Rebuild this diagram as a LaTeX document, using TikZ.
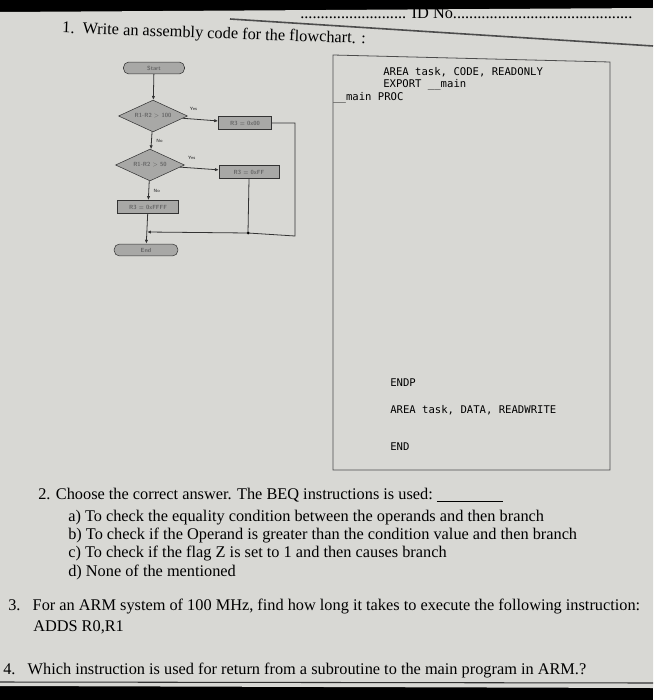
\documentclass[tikz,border=0pt]{standalone}
\usepackage{fontspec}
\setmainfont{Liberation Serif}
\setmonofont{DejaVu Sans Mono}
\usetikzlibrary{shapes.geometric,arrows.meta}
\definecolor{paper}{HTML}{D8D8D4}
\definecolor{shape}{HTML}{A8A8A6}
\begin{document}
\begin{tikzpicture}[x=0.0265cm,y=-0.0265cm,
 term/.style={draw=black!80,fill=shape,rounded corners=4pt,inner sep=0pt,font=\fontsize{4.5}{4.5}\selectfont\sffamily\bfseries,text=black!60},
 dec/.style={draw=black!80,fill=shape,diamond,aspect=2.2,inner sep=0pt,font=\fontsize{4.5}{4.5}\selectfont\sffamily\bfseries,text=black!60},
 proc/.style={draw=black!80,fill=shape,inner sep=1pt,minimum height=10pt,font=\fontsize{4.5}{4.5}\selectfont\sffamily\bfseries,text=black!60},
 lab/.style={font=\fontsize{3.5}{3.5}\selectfont\sffamily\bfseries,text=black!70},
 fl/.style={draw=black!80,line width=0.6pt},
 arr/.style={fl,-{Latex[length=3pt,width=2.5pt]}},
 code/.style={font=\ttfamily\fontsize{8}{9}\selectfont,anchor=west,inner sep=0pt},
 txt/.style={font=\fontsize{12.3}{13}\selectfont,anchor=west,inner sep=0pt}]
\useasboundingbox (0,0) rectangle (653,700);
\fill[black] (0,0) rectangle (653,700);
\fill[paper] (0,12) -- (653,8) -- (653,688) -- (0,686) -- cycle;
% header
\draw[black!70,line width=1.2pt] (230,19) -- (653,46);
\node[txt] (idno) at (300,13) {.......................... ID No............................................};
\node[txt,rotate=-2] (q1) at (62,29) {1.\ \ Write an assembly code for the flowchart. :};
% code box
\draw[black!70,line width=0.6pt] (333,55) -- (610,62) -- (610,470) -- (333,470) -- cycle;
\node[code] (c1) at (383,72) {AREA task, CODE, READONLY};
\node[code] (c2) at (383,85) {EXPORT \_\_main};
\node[code] (c3) at (333,98) {\_\_main PROC};
\node[code] (c4) at (390,383) {ENDP};
\node[code] (c5) at (390,410) {AREA task, DATA, READWRITE};
\node[code] (c6) at (390,447) {END};
% flowchart
\node[term,minimum width=46pt,minimum height=9pt] (start) at (154,68) {Start};
\node[dec,minimum width=52pt,minimum height=24pt] (d1) at (153,116) {R1-R2 > 100};
\node[proc,minimum width=40pt] (p1) at (245,123) {R3 = 0x00};
\node[dec,minimum width=52pt,minimum height=24pt] (d2) at (150,165) {R1-R2 > 50};
\node[proc,minimum width=45pt] (p2) at (249,172) {R3 = 0xFF};
\node[proc,minimum width=46pt] (p3) at (148,207) {R3 = 0xFFFF};
\node[term,minimum width=48pt,minimum height=9pt] (end) at (146,250) {End};
\coordinate (j1) at (295,236);
\coordinate (j2) at (248,233);
\coordinate (j3) at (147,232);
\draw[arr] (start) -- (d1);
\draw[arr] (d1) -- node[lab,above,pos=0.3,yshift=3pt]{Yes} (p1);
\draw[arr] (d1) -- node[lab,right,pos=0.5]{No} (d2);
\draw[arr] (d2) -- node[lab,above,pos=0.3,yshift=3pt]{Yes} (p2);
\draw[arr] (d2) -- node[lab,right,pos=0.5]{No} (p3);
\draw[arr] (p3) -- (end);
\draw[fl] (p1.east) -| (j1) -- (j2);
\draw[fl] (p2.south) -- (j2);
\fill (j2) circle (1.5);
\draw[arr] (j2) -- (j3);
% questions
\node[txt] (q2) at (38,495) {2. Choose the correct answer. The BEQ instructions is used:\ \underline{\hspace{50pt}}};
\node[txt] (qa) at (68,518) {a) To check the equality condition between the operands and then branch};
\node[txt] (qb) at (68,536) {b) To check if the Operand is greater than the condition value and then branch};
\node[txt] (qc) at (68,554) {c) To check if the flag Z is set to 1 and then causes branch};
\node[txt] (qd) at (68,572) {d) None of the mentioned};
\node[txt] (q3) at (8,607) {3.\ \ \ For an ARM system of 100 MHz, find how long it takes to execute the following instruction:};
\node[txt] (q3b) at (33,627) {ADDS R0,R1};
\node[txt] (q4) at (3,671) {4.\ \ \ Which instruction is used for return from a subroutine to the main program in ARM.?};
\draw[black!80,line width=0.8pt] (0,682) -- (653,683);
\end{tikzpicture}
\end{document}
